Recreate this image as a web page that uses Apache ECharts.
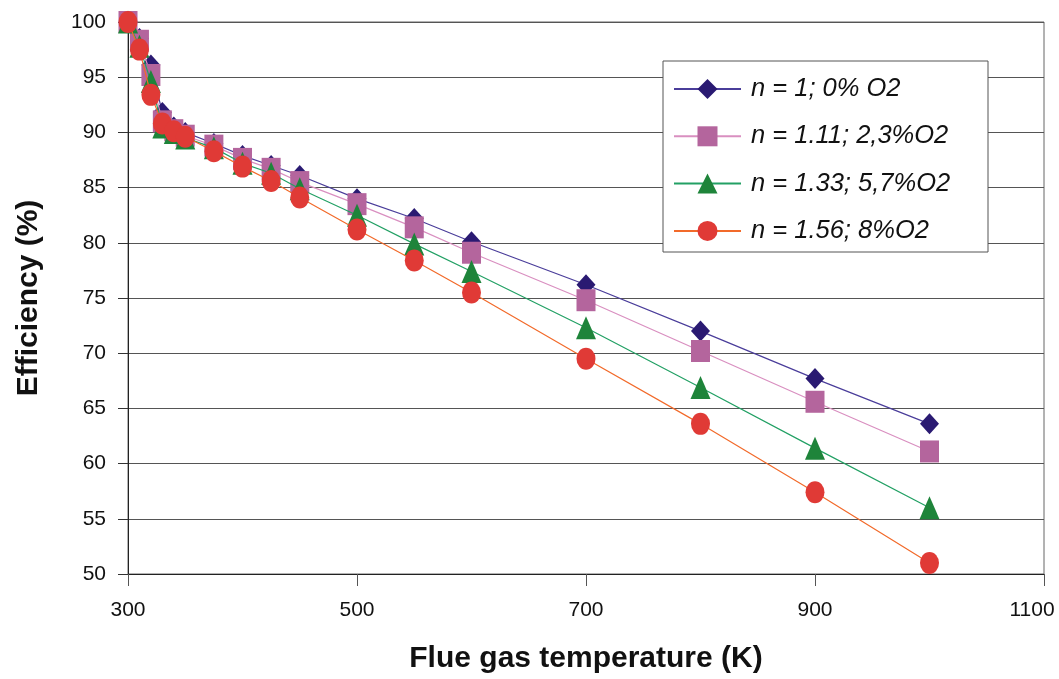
<!DOCTYPE html>
<html>
<head>
<meta charset="utf-8">
<script src="https://cdn.jsdelivr.net/npm/echarts@6/dist/echarts.min.js"></script>
<style>
html,body{margin:0;padding:0;background:#fff;overflow:hidden;width:100%;height:100%;}
#chart{position:absolute;left:0;top:0;width:1059px;height:679px;}
</style>
</head>
<body>
<div id="chart"></div>
<script>
var temperatures = [300, 310, 320, 330, 340, 350, 375, 400, 425, 450, 500, 550, 600, 700, 800, 900, 1000];
var seriesNames = ['n = 1; 0% O2', 'n = 1.11; 2,3%O2', 'n = 1.33; 5,7%O2', 'n = 1.56; 8%O2'];
var eff_n100 = [100, 98.5, 96.1, 91.8, 90.5, 90.0, 89.0, 87.9, 87.0, 86.1, 84.0, 82.2, 80.1, 76.2, 72.0, 67.7, 63.6];
var eff_n111 = [100, 98.3, 95.2, 91.0, 90.2, 89.7, 88.8, 87.6, 86.7, 85.5, 83.5, 81.4, 79.1, 74.8, 70.2, 65.6, 61.1];
var eff_n133 = [100, 97.8, 94.6, 90.5, 90.0, 89.5, 88.6, 87.2, 86.3, 84.9, 82.5, 79.9, 77.4, 72.3, 66.9, 61.4, 56.0];
var eff_n156 = [100, 97.5, 93.4, 90.8, 90.1, 89.6, 88.3, 86.9, 85.6, 84.1, 81.2, 78.4, 75.5, 69.5, 63.6, 57.4, 51.0];
var xTicks = [300, 500, 700, 900, 1100];
var yTicks = [50, 55, 60, 65, 70, 75, 80, 85, 90, 95, 100];

var FONT = "'Liberation Sans', Arial, sans-serif";

function pairs(ys) {
  return temperatures.map(function (t, i) { return [t, ys[i]]; });
}

var styles = [
  {symbol: 'diamond', size: [19, 21], fill: '#2a1a72', line: '#4a3d9a'},
  {symbol: 'rect', size: [19, 22], fill: '#b4659d', line: '#d98fc0'},
  {symbol: 'triangle', size: [20, 23], fill: '#1e843a', line: '#22a064'},
  {symbol: 'circle', size: [19, 22], fill: '#e03a36', line: '#f26a2a'}
];
var allData = [eff_n100, eff_n111, eff_n133, eff_n156];
var xMax = xTicks[xTicks.length - 1];

var chart = echarts.init(document.getElementById('chart'), null, {renderer: 'canvas', width: 1059, height: 679});
chart.setOption({
  animation: false,
  backgroundColor: '#ffffff',
  grid: {left: 128, right: 15, top: 22, bottom: 105, containLabel: false, outerBoundsMode: 'none',
         show: true, borderColor: '#666', borderWidth: 1, backgroundColor: 'transparent'},
  graphic: [{
    type: 'rect', z: 5,
    shape: {x: 663, y: 61, width: 325, height: 191},
    style: {fill: '#ffffff', stroke: '#555', lineWidth: 1}
  }],
  legend: {
    z: 6,
    orient: 'vertical',
    left: 673, top: 76,
    padding: 0,
    itemWidth: 67, itemHeight: 25, itemGap: 21.3,
    data: seriesNames,
    textStyle: {fontFamily: FONT, fontSize: 25.5, fontStyle: 'italic', color: '#111', lineHeight: 25, padding: [0, 0, 0, 5]}
  },
  xAxis: {
    type: 'value', min: xTicks[0], max: xMax, interval: 200,
    name: 'Flue gas temperature (K)', nameLocation: 'middle', nameGap: 70,
    nameTextStyle: {fontFamily: FONT, fontSize: 30, fontWeight: 'bold', color: '#111'},
    axisLine: {onZero: false, lineStyle: {color: '#222', width: 1}},
    axisTick: {show: true, inside: false, length: 12, lineStyle: {color: '#555'}},
    axisLabel: {
      fontFamily: FONT, fontSize: 21, color: '#111', margin: 26,
      formatter: function (v) { return v === xMax ? '{m|' + v + '}' : String(v); },
      rich: {m: {fontFamily: FONT, fontSize: 21, color: '#111', padding: [0, 24, 0, 0]}}
    },
    splitLine: {show: false}
  },
  yAxis: {
    type: 'value', min: yTicks[0], max: yTicks[yTicks.length - 1], interval: 5,
    name: 'Efficiency (%)', nameLocation: 'middle', nameGap: 84,
    nameTextStyle: {fontFamily: FONT, fontSize: 30, fontWeight: 'bold', color: '#111'},
    axisLine: {show: true, lineStyle: {color: '#222', width: 1}},
    axisTick: {show: true, inside: false, length: 10, lineStyle: {color: '#333'}},
    axisLabel: {fontFamily: FONT, fontSize: 21, color: '#111', margin: 22, formatter: function (v) { return String(v); }},
    splitLine: {show: true, lineStyle: {color: '#555', width: 1}}
  },
  series: allData.map(function (d, i) {
    var s = styles[i];
    return {
      name: seriesNames[i], type: 'line', data: pairs(d),
      symbol: s.symbol, symbolSize: s.size, showAllSymbol: true,
      itemStyle: {color: s.fill, borderWidth: 0},
      lineStyle: {color: s.line, width: 1.2},
      emphasis: {disabled: true}, z: 2 + i
    };
  })
});
</script>
</body>
</html>
